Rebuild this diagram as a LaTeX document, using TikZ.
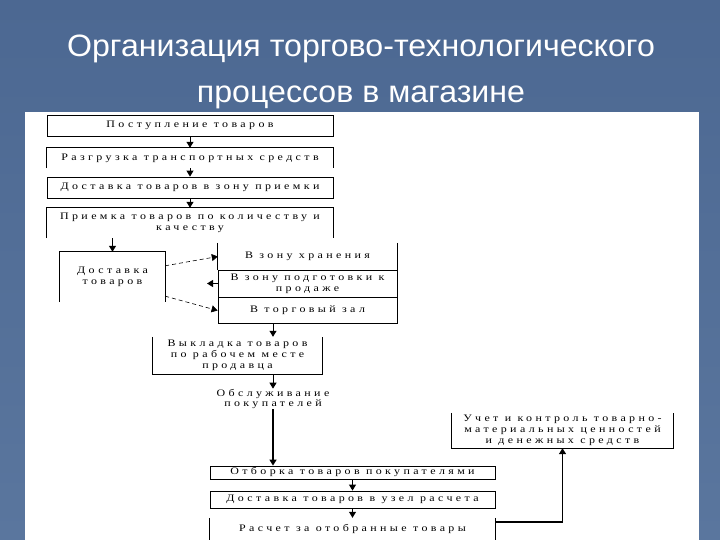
\documentclass[tikz,border=0pt]{standalone}
\usepackage{fontspec}
\setmainfont{Liberation Serif}
\newfontfamily\titlefont[FakeStretch=1.04]{Liberation Sans}
\newfontfamily\boxfont[FakeStretch=1.2,LetterSpace=34]{Liberation Serif}
\usetikzlibrary{arrows.meta,positioning,calc}
\definecolor{slideblue}{RGB}{76,104,146}
\definecolor{slidelight}{RGB}{90,118,158}
\tikzset{
  blk/.style={inner sep=0pt, align=center, text=black, font=\boxfont\fontsize{10}{11}\selectfont},
  full/.style={blk, draw, line width=0.8bp},
  brd/.style={line width=0.8bp},
  ttl/.style={anchor=base, text=white, font=\titlefont\fontsize{31}{40}\selectfont},
  arr/.style={-{Triangle[width=7bp,length=6bp]}, line width=1bp},
  farr/.style={arr, line width=1.6bp},
  dsh/.style={-{Triangle[width=7bp,length=6bp]}, dash pattern=on 4bp off 3bp, line width=0.6bp},
}

\begin{document}
\begin{tikzpicture}[x=1bp,y=-1bp]
\shade[top color=slideblue, bottom color=slidelight] (0,0) rectangle (720,540);
\useasboundingbox (0,0) rectangle (720,540);
\fill[white] (25,112) rectangle (699,540);
\node[ttl] (title1) at (361,57) {Организация торгово-технологического};
\node[ttl] (title2) at (361,103) {процессов в магазине};
% left column
\node[full, minimum width=286bp, minimum height=21bp] (post) at (190,125.5) {Поступление товаров};
\node[blk, minimum width=286bp, minimum height=20bp] (razg) at (190,158) {Разгрузка транспортных средств};
\node[full, minimum width=286bp, minimum height=21bp] (dost) at (190,187.5) {Доставка товаров в зону приемки};
\node[blk, minimum width=286bp, minimum height=30bp] (priem) at (190,223) {Приемка товаров по количеству и\\качеству};
\node[blk, minimum width=105bp, minimum height=50bp] (dtov) at (112.5,277) {Доставка\\товаров};
% zones
\node[blk, minimum width=179bp, minimum height=27bp] (zhran) at (307.5,256.5) {В зону хранения};
\node[full, minimum width=179bp, minimum height=27bp] (zpod) at (307.5,283.5) {В зону подготовки к\\продаже};
\node[full, minimum width=179bp, minimum height=26bp] (zal) at (307.5,310.5) {В торговый зал};
\node[blk, minimum width=169bp, minimum height=37bp] (vykl) at (237.5,355.5) {Выкладка товаров\\по рабочем месте\\продавца};
\node[blk] (obs) at (273,399) {Обслуживание\\покупателей};
% bottom part
\node[blk, minimum width=221bp, minimum height=35bp] (uchet) at (562.5,430.5) {Учет и контроль товарно-\\материальных ценностей\\и денежных средств};
\node[full, minimum width=285bp, minimum height=13bp] (otb) at (352.5,472.5) {Отборка товаров покупателями};
\node[full, minimum width=285bp, minimum height=17bp] (dostu) at (352.5,499.5) {Доставка товаров в узел расчета};
\node[blk, minimum width=285bp, minimum height=22bp] (rasch) at (352.5,529) {Расчет за отобранные товары};
\coordinate (zp) at (207,283.5);
% open borders
\draw[brd] (razg.south west) -- (razg.north west) -- (razg.north east) -- (razg.south east);
\draw[brd] (priem.south west) -- (priem.north west) -- (priem.north east) -- (priem.south east);
\draw[brd] (dtov.south west) -- (dtov.north west) -- (dtov.north east) -- (dtov.south east);
\draw[brd] (zhran.north west) -- (zhran.south west) (zhran.north east) -- (zhran.south east);
\draw[brd] (vykl.north west) -- (vykl.south west) -- (vykl.south east) -- (vykl.north east);
\draw[brd] (uchet.north west) -- (uchet.south west) -- (uchet.south east) -- (uchet.north east);
\draw[brd] (rasch.north west) -- (rasch.south west) (rasch.north east) -- (rasch.south east);
% arrows
\draw[arr] (post) -- (razg);
\draw[arr] (razg) -- (dost);
\draw[arr] (dost) -- (priem);
\draw[arr] (priem.south -| dtov.north) -- (dtov.north);
\draw[dsh] (dtov.12) -- (zhran.west);
\draw[dsh] (dtov.-20) -- (zal.west);
\draw[arr] (zpod.west) -- (zp);
\draw[arr] (zal.south -| obs.north) -- (vykl.north -| obs.north);
\draw[arr] (vykl.south -| obs.north) -- (obs.north);
\draw[farr] (obs.south) -- (otb.north -| obs.south);
\draw[arr] (otb) -- (dostu);
\draw[arr] (dostu) -- (rasch);
\draw[farr] (rasch.east |- 0,522) -| (uchet.south);
\end{tikzpicture}
\end{document}
